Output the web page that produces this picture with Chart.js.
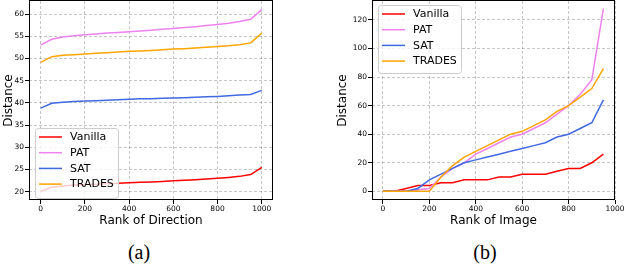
<!DOCTYPE html>
<html>
<head>
<meta charset="utf-8">
<script src="https://cdn.jsdelivr.net/npm/chart.js@4.4.1/dist/chart.umd.min.js"></script>
<style>
  html, body { margin: 0; padding: 0; background: #fff; }
  body { width: 626px; height: 266px; position: relative; overflow: hidden; }
  .panel { position: absolute; top: 0; }
  .caption { position: absolute; top: 241px; width: 60px; text-align: center;
             font-family: "Liberation Serif", serif; font-size: 20px; color: #000; }
</style>
</head>
<body>
<div class="panel" style="left:0;width:313px;height:235px"><canvas id="chartA"></canvas></div>
<div class="panel" style="left:313px;width:313px;height:235px"><canvas id="chartB"></canvas></div>
<div class="caption" style="left:109px">(a)</div>
<div class="caption" style="left:455px">(b)</div>
<script>
// Series names and colours (matplotlib defaults used in the paper)
const seriesNames = ['Vanilla', 'PAT', 'SAT', 'TRADES'];
const seriesColors = ['#ff0000', '#ee82ee', '#4169e1', '#ffa500'];

// (a) distance per rank of direction
const rankA = [0, 50, 100, 150, 200, 250, 300, 350, 400, 450, 500, 550, 600, 650, 700, 750, 800, 850, 900, 950, 1000];
const vanillaA = [20.1, 21.0, 21.3, 21.5, 21.6, 21.7, 21.8, 21.9, 22.0, 22.1, 22.2, 22.3, 22.45, 22.55, 22.7, 22.85, 23.0, 23.2, 23.45, 23.85, 25.5];
const patA = [53.0, 54.3, 54.8, 55.1, 55.35, 55.5, 55.7, 55.85, 56.0, 56.15, 56.35, 56.55, 56.75, 56.95, 57.15, 57.4, 57.65, 57.9, 58.3, 58.8, 61.0];
const satA = [38.8, 39.9, 40.15, 40.3, 40.4, 40.5, 40.6, 40.7, 40.8, 40.9, 40.95, 41.05, 41.1, 41.15, 41.25, 41.35, 41.45, 41.6, 41.75, 41.9, 42.8];
const tradesA = [49.1, 50.4, 50.7, 50.85, 51.0, 51.15, 51.3, 51.45, 51.6, 51.7, 51.8, 51.95, 52.1, 52.2, 52.35, 52.5, 52.7, 52.85, 53.1, 53.5, 55.7];

// (b) distance per rank of image
const rankB = [0, 50, 100, 150, 200, 250, 300, 350, 400, 450, 500, 550, 600, 650, 700, 750, 800, 850, 900, 950];
const vanillaB = [0, 0, 2, 4, 4, 6, 6, 8, 8, 8, 10, 10, 12, 12, 12, 14, 16, 16, 20, 26];
const patB = [0, 0, 0, 1, 2, 10, 16, 20, 26, 30, 34, 38, 40, 44, 48, 54, 60, 68, 78, 128];
const satB = [0, 0, 0, 2, 8, 12, 16, 20, 22, 24, 26, 28, 30, 32, 34, 38, 40, 44, 48, 64];
const tradesB = [0, 0, 0, 0, 0, 10, 18, 24, 28, 32, 36, 40, 42, 46, 50, 56, 60, 66, 72, 86];

// Axis ticks
const xTicksA = [0, 200, 400, 600, 800, 1000];
const yTicksA = [20, 25, 30, 35, 40, 45, 50, 55, 60];
const xTicksB = [0, 200, 400, 600, 800, 1000];
const yTicksB = [0, 20, 40, 60, 80, 100, 120];

const tickFont = { family: 'DejaVu Sans', size: 7.5 };
const titleFont = { family: 'DejaVu Sans', size: 12 };

function toPoints(xs, ys) {
    return xs.map((x, i) => ({ x: x, y: ys[i] }));
}

function makeDatasets(xs, seriesList) {
    return seriesList.map((ys, i) => ({
        label: seriesNames[i],
        data: toPoints(xs, ys),
        borderColor: seriesColors[i],
        backgroundColor: seriesColors[i],
        borderWidth: 1.5,
        pointRadius: 0,
        tension: 0,
        order: -i
    }));
}

// Frame + matplotlib-like legend drawn on top
const framePlugin = {
    id: 'frameLegend',
    afterDraw(chart, args, opts) {
        const ctx = chart.ctx;
        const a = chart.chartArea;
        ctx.save();
        ctx.strokeStyle = '#000';
        ctx.lineWidth = 1;
        ctx.strokeRect(Math.round(a.left) + 0.5, Math.round(a.top) - 0.5,
                       Math.round(a.right - a.left) - 1, Math.round(a.bottom - a.top));

        // legend box
        const lg = opts.box;
        ctx.beginPath();
        ctx.roundRect(lg.x + 0.5, lg.y + 0.5, lg.w, lg.h, 3);
        ctx.fillStyle = 'rgba(255,255,255,0.8)';
        ctx.fill();
        ctx.strokeStyle = '#cccccc';
        ctx.stroke();
        ctx.font = '11px "DejaVu Sans"';
        ctx.textBaseline = 'middle';
        seriesNames.forEach((name, i) => {
            const y = lg.y + 9 + i * 15.7;
            ctx.beginPath();
            ctx.strokeStyle = seriesColors[i];
            ctx.lineWidth = 1.5;
            ctx.moveTo(lg.x + 4, y);
            ctx.lineTo(lg.x + 27, y);
            ctx.stroke();
            ctx.fillStyle = '#000';
            ctx.fillText(name, lg.x + 35, y + 0.5);
        });
        ctx.restore();
    }
};

function axisOptions(min, max, ticks, title, isX, size, titlePad) {
    return {
        type: 'linear',
        min: min,
        max: max,
        afterBuildTicks: (scale) => { scale.ticks = ticks.map(v => ({ value: v })); },
        afterFit: (scale) => {
            if (isX) { scale.height = size; scale.paddingLeft = 0; scale.paddingRight = 0; }
            else { scale.width = size; scale.paddingTop = 0; scale.paddingBottom = 0; }
        },
        ticks: { font: tickFont, color: '#000', padding: 1, maxRotation: 0, autoSkip: false,
                 callback: (v) => String(v) },
        grid: { color: 'rgba(0,0,0,0.22)', lineWidth: 1, drawTicks: true, tickLength: 4, tickColor: '#000' },
        border: { display: false, dash: [3, 2] },
        title: { display: true, text: title, font: titleFont, color: '#000', padding: titlePad }
    };
}

const charts = {};

charts.a = new Chart(document.getElementById('chartA'), {
    type: 'line',
    data: { datasets: makeDatasets(rankA, [vanillaA, patA, satA, tradesA]) },
    options: {
        responsive: true,
        maintainAspectRatio: false,
        animation: false,
        layout: { padding: { top: 1, right: 40, left: 0, bottom: 0 } },
        plugins: {
            legend: { display: false },
            tooltip: { enabled: false },
            frameLegend: { box: { x: 35, y: 128, w: 83, h: 70 } }
        },
        scales: {
            x: axisOptions(-52.9, 1051, xTicksA, 'Rank of Direction', true, 35, 7),
            y: axisOptions(18.13, 62.93, yTicksA, 'Distance', false, 29, 2)
        }
    },
    plugins: [framePlugin]
});

charts.b = new Chart(document.getElementById('chartB'), {
    type: 'line',
    data: { datasets: makeDatasets(rankB, [vanillaB, patB, satB, tradesB]) },
    options: {
        responsive: true,
        maintainAspectRatio: false,
        animation: false,
        layout: { padding: { top: 1, right: 11, left: 21, bottom: 0 } },
        plugins: {
            legend: { display: false },
            tooltip: { enabled: false },
            frameLegend: { box: { x: 65, y: 5, w: 83, h: 68 } }
        },
        scales: {
            x: axisOptions(-47.3, 1000, xTicksB, 'Rank of Image', true, 35, 7),
            y: axisOptions(-6.1, 133.3, yTicksB, 'Distance', false, 38, 2)
        }
    },
    plugins: [framePlugin]
});
</script>
</body>
</html>
